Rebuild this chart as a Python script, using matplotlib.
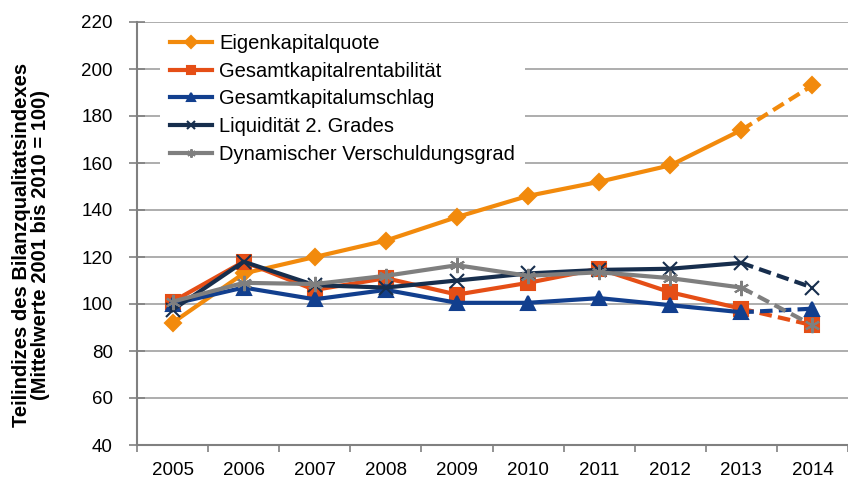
import numpy as np
import matplotlib.pyplot as plt

plt.rcParams['font.family'] = ['Liberation Sans', 'DejaVu Sans']

#Data
years = [2005, 2006, 2007, 2008, 2009, 2010, 2011, 2012, 2013, 2014]
eigenkapitalquote = [92, 113, 120, 127, 137, 146, 152, 159, 174, 193]
gk_rentabilitaet = [101, 118, 106, 111, 104, 109, 115, 105, 98, 91]
gk_umschlag = [100, 107, 102, 106, 100.5, 100.5, 102.5, 99.5, 96.5, 98]
liquiditaet = [97.5, 118, 108, 107, 110, 113, 114.5, 115, 117.5, 107]
verschuldung = [101, 109, 108.5, 112, 116.5, 112, 113.5, 111, 107, 91]

labels = ["Eigenkapitalquote", "Gesamtkapitalrentabilität", "Gesamtkapitalumschlag",
          "Liquidität 2. Grades", "Dynamischer Verschuldungsgrad"]
series = [eigenkapitalquote, gk_rentabilitaet, gk_umschlag, liquiditaet, verschuldung]
colors = ['#F28A0C', '#E54E16', '#123F8E', '#172E4D', '#7F7F7F']
markers = ['D', 's', '^', 'x', (6, 2, 0)]
msizes = [8, 10, 10, 10, 11]

fig = plt.figure(figsize=(8.48, 4.8), dpi=100)
ax = fig.add_axes([137/848, 1 - 445/480, 1 - 137/848, 423/480])

x = np.array(years)
handles = []
for s, lab, c, m, ms in zip(series, labels, colors, markers, msizes):
    y = np.array(s, dtype=float)
    # solid part up to 2013, dashed to 2014
    h, = ax.plot(x[:-1], y[:-1], color=c, lw=3, marker=m, ms=ms, mew=1.5, label=lab, zorder=3)
    ax.plot(x[-2:], y[-2:], color=c, lw=3, ls=(0, (3, 1.5)), zorder=2)
    ax.plot(x[-1:], y[-1:], color=c, lw=0, marker=m, ms=ms, mew=1.5, zorder=3)
    handles.append(h)

ax.set_xlim(2004.5, 2014.5)
ax.set_ylim(40, 220)
ax.set_yticks(np.arange(40, 221, 20))
# tick marks between categories, labels centred
ax.set_xticks(np.arange(2004.5, 2014.6, 1))
ax.set_xticklabels([])
ax.set_xticks(years, minor=True)
ax.set_xticklabels([str(v) for v in years], minor=True)
ax.tick_params(axis='x', which='major', length=5, width=1.2, color='#808080', direction='out')
ax.tick_params(axis='x', which='minor', length=0, pad=12, labelsize=13.5)
ax.tick_params(axis='y', labelsize=13.5, color='#808080', length=11, width=1.2,
               direction='inout', pad=12)
ax.yaxis.grid(True, color='#A0A0A0', lw=1.2)
ax.set_axisbelow(True)
for sp in ['top', 'right']:
    ax.spines[sp].set_visible(False)
ax.spines['left'].set_color('#808080')
ax.spines['left'].set_linewidth(1.5)
ax.spines['bottom'].set_color('#808080')
ax.spines['bottom'].set_linewidth(1.5)

ax.set_ylabel("Teilindizes des Bilanzqualitatsindexes\n(Mittelwerte 2001 bis 2010 = 100)",
              fontsize=14.5, fontweight='bold', linespacing=1.0)
ax.yaxis.set_label_coords(-0.122, 0.472)

leg = ax.legend(handles=handles, loc='upper left', bbox_to_anchor=(160/848, 1 - 24/480),
                bbox_transform=fig.transFigure, fontsize=14.5, frameon=True, fancybox=False,
                framealpha=1, edgecolor='none', handlelength=2.1, handletextpad=0.35,
                labelspacing=0.43, borderpad=0.5, borderaxespad=0)
for lh in leg.get_lines():
    lh.set_markersize(6)

fig.savefig("out.png", dpi=100)
